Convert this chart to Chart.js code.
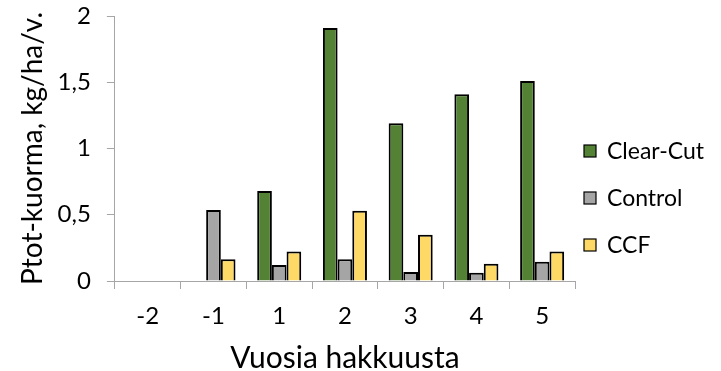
<!DOCTYPE html>
<html>
<head>
<meta charset="utf-8">
<script src="https://cdn.jsdelivr.net/npm/chart.js@4"></script>
<style>
  body { margin: 0; background: #fff; }
  #wrap { width: 721px; height: 371px; }
</style>
</head>
<body>
<div id="wrap"><canvas id="chart" width="721" height="371"></canvas></div>
<script>
// P load per year since cutting, three treatments
const years = ['-2', '-1', '1', '2', '3', '4', '5'];
const clearCut = [null, null, 0.68, 1.91, 1.19, 1.41, 1.51];
const control = [null, 0.535, 0.12, 0.165, 0.068, 0.063, 0.145];
const ccf = [null, 0.165, 0.222, 0.53, 0.35, 0.131, 0.222];

const fontFamily = 'Lato, "Open Sans", sans-serif';
const axisGray = '#a6a6a6';

// legend drawn by hand so it can sit close to the plot, lower than centre
const sideLegend = {
  id: 'sideLegend',
  afterDraw(chart) {
    const ctx = chart.ctx;
    const x = chart.chartArea.right + 9;
    ctx.save();
    ctx.font = '23px ' + fontFamily;
    ctx.textBaseline = 'middle';
    chart.data.datasets.forEach((ds, i) => {
      const y = 151 + i * 47;
      ctx.fillStyle = ds.backgroundColor;
      ctx.fillRect(x, y - 6, 12, 12);
      ctx.strokeStyle = '#000';
      ctx.lineWidth = 1.2;
      ctx.strokeRect(x, y - 6, 12, 12);
      ctx.fillStyle = '#000';
      ctx.fillText(ds.label, x + 23, y + 1);
    });
    ctx.restore();
  }
};

new Chart(document.getElementById('chart'), {
  type: 'bar',
  data: {
    labels: years,
    datasets: [
      { label: 'Clear-Cut', data: clearCut, backgroundColor: '#548235' },
      { label: 'Control', data: control, backgroundColor: '#a5a5a5' },
      { label: 'CCF', data: ccf, backgroundColor: '#ffd966' }
    ].map(ds => Object.assign(ds, {
      borderColor: '#000',
      borderWidth: 2,
      categoryPercentage: 0.67,
      barPercentage: 1
    }))
  },
  options: {
    responsive: false,
    animation: false,
    layout: { padding: { top: 0, right: 146, bottom: 0, left: 16 } },
    plugins: {
      tooltip: { enabled: false },
      legend: { display: false }
    },
    scales: {
      x: {
        grid: { drawOnChartArea: false, color: axisGray, tickLength: 8, offset: true },
        border: { color: axisGray },
        ticks: { color: '#000', font: { family: fontFamily, size: 24, lineHeight: 1 }, padding: 15 },
        title: {
          display: true,
          text: 'Vuosia hakkuusta',
          color: '#000',
          font: { family: fontFamily, size: 30, lineHeight: 1 },
          padding: { top: 0, bottom: -2 }
        }
      },
      y: {
        min: 0,
        max: 2,
        grid: { drawOnChartArea: false, color: axisGray, tickLength: 8 },
        border: { color: axisGray },
        ticks: {
          stepSize: 0.5,
          color: '#000',
          font: { family: fontFamily, size: 24 },
          padding: 16,
          callback: v => String(v).replace('.', ',')
        },
        title: {
          display: true,
          text: 'Ptot-kuorma, kg/ha/v.',
          color: '#000',
          font: { family: fontFamily, size: 28 },
          padding: { top: 0, bottom: -8 }
        },
        // tick padding would otherwise also push the plot top down
        afterFit(scale) {
          scale.paddingTop = 16;
        }
      }
    }
  },
  plugins: [sideLegend]
});
</script>
</body>
</html>
